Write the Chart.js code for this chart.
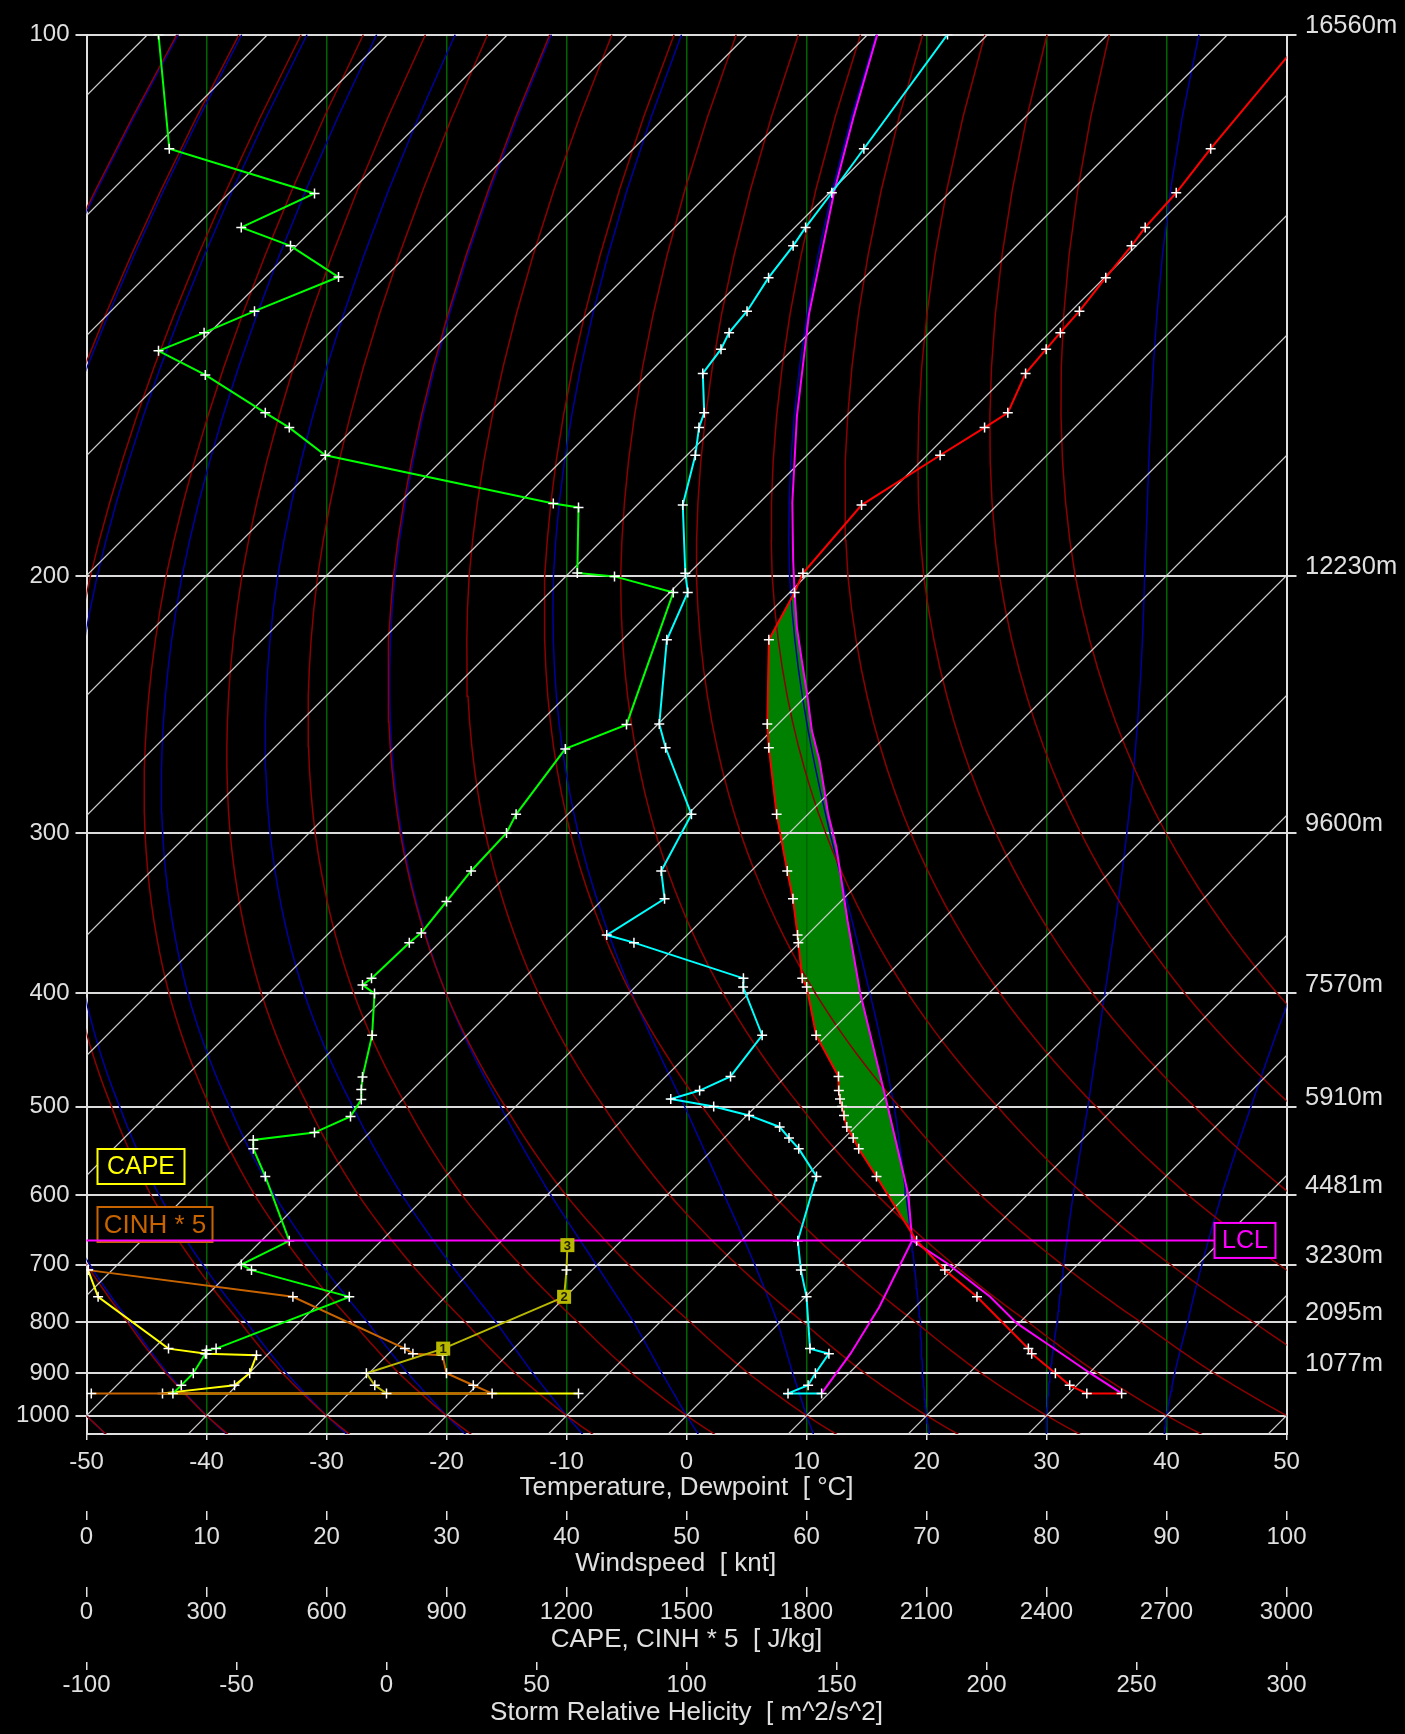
<!DOCTYPE html>
<html>
<head>
<meta charset="utf-8">
<script src="https://cdn.jsdelivr.net/npm/chart.js@4.4.1/dist/chart.umd.min.js"></script>
<style>
  html, body { margin: 0; padding: 0; background: #000; }
  canvas { display: block; }
</style>
</head>
<body>
<canvas id="skewt" width="1405" height="1734"></canvas>
<script>
/* ---- sounding data ---- */
const LEVEL_P = [945.7, 945.7, 927, 900, 860, 850, 754, 709, 663.5, 577, 544.6, 532.8, 521, 509, 500, 492.4, 484, 470.4, 433.5,
  395.2, 388.8, 364, 359, 336.4, 320.3, 290.7, 260.5, 250.8, 219.9, 204.8, 199.1, 180.7, 168.7, 162.5, 159.3, 151.2, 146.5,
  143.4, 139.5, 133.7, 128.5, 125.6, 120.4, 114.2, 100];
const TEMP_C = [34.4, 31.5, 29.4, 27.2, 23.6, 22.9, 14.3, 9.4, 4.6, -4.1, -7.9, -9.25, -10.7, -11.9, -12.8, -13.6, -14.4, -15.6, -20.9,
  -25.7, -26.8, -30.1, -30.8, -34.2, -37.0, -42.6, -48.8, -50.9, -57.8, -59.6, -60.5, -61.3, -58.9, -57.5, -56.8, -58.6, -58.9,
  -59.1, -59.3, -59.9, -60.4, -60.8, -61.1, -61.9, -63.5];
const DEWP_C = [9.4, 6.6, 7.6, 7.2, 6.7, 4.7, 0.1, -2.6, -5.3, -9.1, -12.9, -14.6, -16.3, -19.8, -23.5, -27.7, -26.0, -24.6, -25.4,
  -31.0, -31.7, -43.8, -46.7, -44.9, -47.5, -49.7, -57.4, -59.9, -66.3, -68.5, -70.3, -76.2, -79.3, -81.3, -82.1, -85.5, -86.0,
  -86.7, -87.0, -88.0, -88.6, -89.1, -89.8, -90.8, -93.35];

const WIND_P = [945.7, 927, 900, 860, 853, 850, 754, 709, 700, 663.5, 577, 544.6, 535, 527, 510, 493, 483, 471, 433.5, 400,
  393.6, 388.8, 364, 357.6, 338, 320.3, 300, 290.7, 261, 251, 204.8, 200, 199, 181.3, 180.3, 168.7, 162.5, 159.3, 151.5,
  146.8, 143.4, 139.5, 133.6, 128.5, 125.6, 120.5, 114.2, 100];
const WIND_KT = [7.2, 7.9, 8.9, 9.9, 10.0, 10.8, 21.9, 13.75, 12.9, 16.9, 14.9, 13.9, 13.9, 19.0, 22.0, 22.9, 22.9, 23.0,
  23.8, 24.0, 23.0, 23.75, 26.9, 27.9, 30.0, 32.05, 35.0, 35.8, 39.9, 45.0, 48.9, 44.0, 40.9, 41.0, 38.9, 19.9, 16.9, 14.9,
  9.9, 6.0, 9.8, 14.0, 21.0, 17.0, 12.9, 19.0, 6.9, 6.0];

// lifted parcel (magenta) and its mixing-ratio leg
const PARCEL_P = [945.7, 900, 840, 802, 754, 698, 663, 600, 500, 400, 350, 307.3, 290.7, 278, 266, 253.6, 239.1, 227.1,
  215.8, 204.8, 195.4, 180, 160, 140, 120, 110, 100];
const PARCEL_C = [34.4, 30.1, 24.0, 19.8, 15.4, 9.0, 4.2, 0.1, -9.0, -20.7, -27.8, -34.9, -38.3, -40.9, -43.5, -46.6, -50.1,
  -53.3, -56.5, -59.6, -62.4, -67.3, -74.1, -81.6, -89.8, -94.3, -99.2];
const MIXR_P = [945.7, 860, 772, 663];
const MIXR_C = [9.4, 8.5, 7.0, 4.2];
const LCL_P = 663;
const EL_P = 204.8;

// CAPE, CINH*5 [J/kg] and storm relative helicity [m2/s2]
const CAPE_P = [945.7, 945.7, 927, 900, 863, 860, 850, 754, 709];
const CAPE_J = [1230, 190, 370, 408, 425, 300, 205, 29, 4];
const CINH_P = [945.7, 945.7, 927, 900, 863, 860, 850, 754, 709];
const CINH_J = [12, 1014, 967, 900, 890, 816, 796, 516, 4];
const SRH_P = [945.7, 927, 900, 850, 754, 709, 670];
const SRH_V = [0, -3.9, -6.7, 18.9, 59.2, 60, 60.3];
const SRH_KM = ['', '', '', '1', '2', '', '3'];

const PRESSURE_TICKS = [100, 200, 300, 400, 500, 600, 700, 800, 900, 1000];
const HEIGHT_TICKS = [100, 200, 300, 400, 500, 600, 700, 800, 900];
const HEIGHT_LABELS = ['16560m', '12230m', '9600m', '7570m', '5910m', '4481m', '3230m', '2095m', '1077m'];

/* ---- pressure axis: calibrated to the diagram's isobar spacing ---- */
const KNOT_P = [100, 200, 300, 400, 500, 600, 700, 800, 900, 1000, 1050];
const KNOT_D = [0, 0.38721, 0.57056, 0.68524, 0.76599, 0.82922, 0.87889, 0.91997, 0.95656, 0.98692, 1];
const KNOT_Q = KNOT_P.map((p) => Math.pow(p, -0.35));

function pDecimal(p) {
  const q = Math.pow(p, -0.35);
  let i = 0;
  while (i < KNOT_P.length - 2 && p > KNOT_P[i + 1]) i++;
  const f = (KNOT_Q[i] - q) / (KNOT_Q[i] - KNOT_Q[i + 1]);
  return KNOT_D[i] + f * (KNOT_D[i + 1] - KNOT_D[i]);
}

class PressureScale extends Chart.LinearScale {
  getPixelForValue(value) {
    return this.getPixelForDecimal(pDecimal(value));
  }
  getValueForPixel(pixel) {
    const d = this.getDecimalForPixel(pixel);
    let lo = 50, hi = 1100;
    for (let k = 0; k < 40; k++) {
      const mid = (lo + hi) / 2;
      if (pDecimal(mid) < d) lo = mid; else hi = mid;
    }
    return (lo + hi) / 2;
  }
}
PressureScale.id = 'pressure';
PressureScale.defaults = {};
Chart.register(PressureScale);

// 45 degree isotherms: 12 px per degree, chart area 1399.5 px high
const SKEW = 1399.5 / 12;
const D1000 = pDecimal(1000);
function skewX(t, p) {
  return t + SKEW * (D1000 - pDecimal(p));
}
function skewPoints(P, T) {
  return P.map((p, i) => ({ x: skewX(T[i], p), y: p }));
}

/* ---- background lines ---- */
function satMix(t, p) {
  const es = 6.112 * Math.exp(17.67 * t / (t + 243.5));
  return 0.622 * es / (p - es);
}
function moistLapse(t, p) {
  const T = t + 273.15;
  const rs = satMix(t, p);
  const Rd = 287.04, cp = 1005.7, L = 2.501e6;
  return (Rd * T + L * rs) / (p * (cp + L * L * rs * 0.622 / (Rd * T * T)));
}
function moistAdiabat(t1000) {
  const pts = [];
  let t = t1000;
  for (let p = 1000; p >= 100; p -= 2) {
    if (p % 10 === 0) pts.push({ x: skewX(t, p), y: p });
    const k1 = moistLapse(t, p);
    const k2 = moistLapse(t - 2 * k1, p - 2);
    t -= k1 + k2;
  }
  t = t1000;
  const low = [];
  for (let p = 1000; p <= 1060; p += 2) {
    if (p % 10 === 0 && p > 1000) low.push({ x: skewX(t, p), y: p });
    const k1 = moistLapse(t, p);
    const k2 = moistLapse(t + 2 * k1, p + 2);
    t += k1 + k2;
  }
  return low.reverse().concat(pts);
}
function dryAdiabat(theta) {
  const pts = [];
  for (let p = 1060; p >= 100; p -= 10) {
    pts.push({ x: skewX(theta * Math.pow(p / 1000, 0.2857) - 273.15, p), y: p });
  }
  return pts;
}

const bgLine = (data, color, width) => ({
  data, borderColor: color, borderWidth: width, pointRadius: 0, fill: false, order: 50, tension: 0,
});

const datasets = [];
for (let t = -160; t <= 50; t += 10) {
  datasets.push(bgLine([{ x: skewX(t, 1060), y: 1060 }, { x: skewX(t, 100), y: 100 }], 'rgba(215,215,215,0.95)', 1.2));
}
for (let th = 223.15; th <= 373.2; th += 10) {
  datasets.push(bgLine(dryAdiabat(th), '#8c0000', 1.5));
}
for (let tw = -50; tw <= 40; tw += 10) {
  datasets.push(bgLine(moistAdiabat(tw), '#0000a0', 1.5));
}

// CAPE area between parcel and environment
const capeShape = [];
PARCEL_P.forEach((p, i) => { if (p <= LCL_P + 1 && p >= EL_P) capeShape.push({ x: skewX(PARCEL_C[i], p), y: p }); });
for (let i = LEVEL_P.length - 1; i >= 0; i--) {
  const p = LEVEL_P[i];
  if (p <= LCL_P + 1 && p >= EL_P) capeShape.push({ x: skewX(TEMP_C[i], p), y: p });
}
datasets.push({ data: capeShape, fill: 'shape', backgroundColor: '#008000', borderWidth: 0, pointRadius: 0, order: 60 });

const marked = (data, color, extra) => Object.assign({
  data, borderColor: color, borderWidth: 2, fill: false, tension: 0,
  pointStyle: 'cross', pointRadius: 5, pointBorderColor: '#ffffff', pointBorderWidth: 1.5,
}, extra);

datasets.push(marked(CAPE_P.map((p, i) => ({ x: CAPE_J[i], y: p })), '#ffff00', { xAxisID: 'xc', order: 9 }));
datasets.push(marked(CINH_P.map((p, i) => ({ x: CINH_J[i], y: p })), '#c86400', { xAxisID: 'xc', order: 8 }));
datasets.push(marked(SRH_P.map((p, i) => ({ x: SRH_V[i], y: p })), '#b8b800', {
  xAxisID: 'xs', order: 7, pointRadius: SRH_KM.map((k) => (k ? 0 : 5)),
}));
datasets.push(marked(WIND_P.map((p, i) => ({ x: WIND_KT[i], y: p })), '#00ff00', { xAxisID: 'xw', order: 6 }));
datasets.push(bgLine(skewPoints(MIXR_P, MIXR_C), '#ff00ff', 2));
datasets[datasets.length - 1].order = 5;
datasets.push(bgLine(skewPoints(PARCEL_P, PARCEL_C), '#ff00ff', 2));
datasets[datasets.length - 1].order = 4;
datasets.push(marked(skewPoints(LEVEL_P, DEWP_C), '#00ffff', { order: 3 }));
datasets.push(marked(skewPoints(LEVEL_P, TEMP_C), '#ff0000', { order: 2 }));

/* ---- labels: CAPE / CINH boxes, LCL line, SRH km markers ---- */
const annotations = {
  id: 'annotations',
  afterDatasetsDraw(chart) {
    const { ctx, chartArea: a } = chart;
    const yS = chart.scales.y;
    ctx.save();
    ctx.font = "25px 'Liberation Sans', Arial, sans-serif";
    ctx.textAlign = 'center';
    ctx.textBaseline = 'middle';
    ctx.lineWidth = 2;
    const box = (x, y, w, h, color, text) => {
      ctx.fillStyle = '#000';
      ctx.fillRect(x, y, w, h);
      ctx.strokeStyle = color;
      ctx.strokeRect(x, y, w, h);
      ctx.fillStyle = color;
      ctx.fillText(text, x + w / 2, y + h / 2 + 1);
    };
    box(a.left + 11, 1149, 87, 35, '#ffff00', 'CAPE');
    ctx.font = "26px 'Liberation Sans', Arial, sans-serif";
    box(a.left + 11, 1207, 115, 35, '#c86400', 'CINH * 5');
    ctx.font = "25px 'Liberation Sans', Arial, sans-serif";

    const yl = yS.getPixelForValue(LCL_P);
    ctx.strokeStyle = '#ff00ff';
    ctx.beginPath();
    ctx.moveTo(a.left, yl);
    ctx.lineTo(a.right - 72, yl);
    ctx.stroke();
    box(a.right - 72, yl - 17.5, 61, 35, '#ff00ff', 'LCL');

    const xs = chart.scales.xs;
    ctx.font = "bold 13px 'Liberation Sans', Arial, sans-serif";
    SRH_KM.forEach((k, i) => {
      if (!k) return;
      const px = xs.getPixelForValue(SRH_V[i]);
      const py = yS.getPixelForValue(SRH_P[i]);
      ctx.fillStyle = '#b8b800';
      ctx.fillRect(px - 7, py - 7, 14, 14);
      ctx.fillStyle = '#202000';
      ctx.fillText(k, px, py + 1);
    });
    ctx.restore();
  },
};

/* ---- axes ---- */
const TXT = '#e0e0e0';
const FONT = { size: 24, lineHeight: 1 };
const TITLE_FONT = { size: 26, lineHeight: 1 };
// axis heights are fixed so the stacked bottom axes line up with the original
const bottomAxis = (min, max, step, weight, tickLen, pad, height, title, pb) => ({
  type: 'linear', position: 'bottom', min, max, weight,
  afterFit: (s) => { s.height = height; },
  ticks: { stepSize: step, color: TXT, font: FONT, padding: pad, maxRotation: 0, autoSkip: false, callback: (v) => String(v) },
  grid: { drawOnChartArea: false, tickLength: tickLen, tickColor: TXT, lineWidth: 1.5 },
  border: { display: false },
  title: { display: true, text: title, color: TXT, font: TITLE_FONT, padding: { top: 0, bottom: pb } },
});

Chart.defaults.font.family = "'Liberation Sans', Arial, sans-serif";

new Chart(document.getElementById('skewt'), {
  type: 'line',
  data: { datasets },
  plugins: [annotations],
  options: {
    responsive: false,
    animation: false,
    events: [],
    layout: { padding: { top: 34.5, left: 0, right: 0, bottom: 0 } },
    plugins: { legend: { display: false }, tooltip: { enabled: false }, filler: { drawTime: 'beforeDraw' } },
    scales: {
      x: {
        type: 'linear', position: 'bottom', min: -50, max: 50, weight: 1,
        afterFit: (s) => { s.height = 77; },
        ticks: { stepSize: 10, color: TXT, font: FONT, padding: 10, maxRotation: 0, autoSkip: false, callback: (v) => String(v) },
        grid: { color: '#006400', lineWidth: 1.5, tickLength: 6, tickColor: TXT },
        border: { color: TXT, width: 2 },
        title: { display: true, text: 'Temperature, Dewpoint  [ °C]', color: TXT, font: TITLE_FONT, padding: { top: 0, bottom: 10 } },
      },
      xw: bottomAxis(0, 100, 10, 2, 9, 5, 76, 'Windspeed  [ knt]   ', 10),
      xc: bottomAxis(0, 3000, 300, 3, 10, 3, 75, 'CAPE, CINH * 5  [ J/kg]', 9),
      xs: bottomAxis(-100, 300, 50, 4, 8, 3, 72, 'Storm Relative Helicity  [ m^2/s^2]', 8),
      y: {
        type: 'pressure', position: 'left', reverse: true, min: 100, max: 1050,
        afterBuildTicks: (s) => { s.ticks = PRESSURE_TICKS.map((v) => ({ value: v })); },
        afterFit: (s) => { s.width = 86.5; },
        ticks: { color: TXT, font: FONT, padding: 6, autoSkip: false, callback: (v) => String(v) },
        grid: { color: '#dcdcdc', lineWidth: 2, tickLength: 11 },
        border: { color: TXT, width: 2 },
      },
      y2: {
        type: 'pressure', position: 'right', reverse: true, min: 100, max: 1050,
        afterBuildTicks: (s) => { s.ticks = HEIGHT_TICKS.map((v) => ({ value: v })); },
        afterFit: (s) => { s.width = 118.5; },
        ticks: { color: TXT, font: { size: 25.5, lineHeight: 1 }, padding: 8.5, labelOffset: -9, autoSkip: false,
          callback: (v, i) => HEIGHT_LABELS[i] },
        grid: { drawOnChartArea: false, color: '#dcdcdc', lineWidth: 2, tickLength: 10 },
        border: { color: TXT, width: 2 },
      },
    },
  },
});
</script>
</body>
</html>
